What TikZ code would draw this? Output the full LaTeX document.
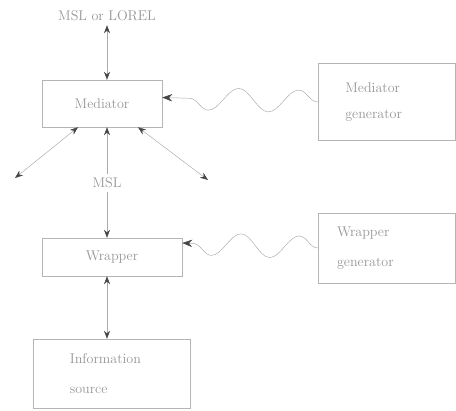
\documentclass[tikz,border=0pt]{standalone}
\usepackage{tikz}
\usetikzlibrary{positioning,calc,arrows.meta,decorations.pathmorphing}
\definecolor{ink}{RGB}{150,150,150}
\definecolor{tip}{RGB}{70,70,70}

\tikzset{
  box/.style={draw=ink!70,thin,minimum width=#1,text=ink,font=\large},
  link/.style={draw=ink!80,{Stealth[tip,length=2.4mm,width=1.8mm]}-{Stealth[tip,length=2.4mm,width=1.8mm]}},
  wave/.style={draw=ink!80,-{Stealth[tip,length=3mm,width=2.2mm]},decorate,
    decoration={snake,mirror,amplitude=0.34cm,segment length=#1,pre length=1pt,post length=1mm}},
}

\begin{document}
\begin{tikzpicture}[x=0.03cm,y=-0.03cm]
  \useasboundingbox (0,0) rectangle (456,410);

  \node[box=3.6cm,minimum height=1.41cm] (med) at (102,103.5) {Mediator};
  \node[box=4.2cm,minimum height=1.14cm] (wrap) at (112,257) {Wrapper};
  \node[box=4.71cm,minimum height=2.07cm,text width=2.5cm,align=left] (info) at (111.5,373.5)
    {Information\\[4mm]source};

  \node[box=4.1cm,minimum height=2.31cm,text width=2.5cm,align=left] (medgen) at (387,102)
    {Mediator\\[3mm]generator};
  \node[box=4.1cm,minimum height=2.1cm,text width=3.0cm,align=left] (wrapgen) at (387,248)
    {Wrapper\\[4mm]generator};

  \node[text=ink,font=\large] (lang) at (107,16) {MSL or LOREL};

  \coordinate (left) at (15,178);
  \coordinate (right) at (208,180);

  \draw[link] (med.south) ++(-24,0) coordinate (ml) (ml) -- (left);
  \draw[link] (med.south) ++(36,0) coordinate (mr) (mr) -- (right);
  \draw[link] (lang) -- (lang |- med.north);
  \draw[link] (med.south -| lang) -- node[fill=white,text=ink,font=\large] (msl) {MSL} (wrap.north -| lang);
  \draw[link] (wrap.south -| lang) -- (info.north -| lang);

  \draw[wave=1.8cm] (medgen.west) -- ($(med.east)+(0,-6)$);
  \draw[wave=1.75cm] (wrapgen.west) -- ($(wrap.east)+(0,-14)$);
\end{tikzpicture}
\end{document}
